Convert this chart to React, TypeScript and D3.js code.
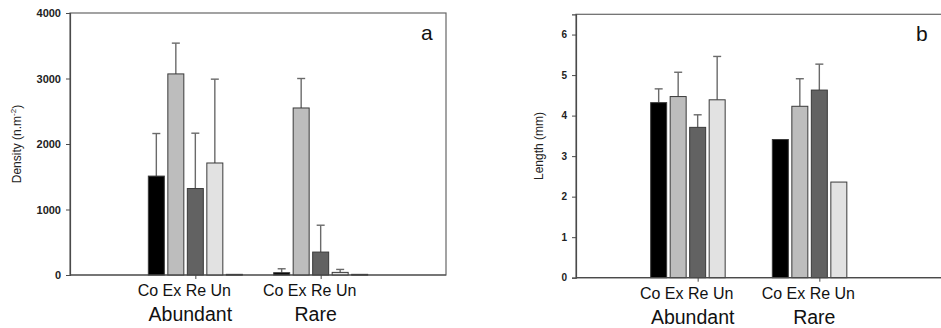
import { axisBottom, axisLeft, scaleBand, scaleLinear, select } from "d3";
import { useEffect, useRef } from "react";

const groups = ["Abundant", "Rare"];
const series = ["Co", "Ex", "Re", "Un", "Ot"];
const seriesLabel = "Co Ex Re Un";
const seriesFill: Record<string, string> = {
  Co: "#000000",
  Ex: "#bdbdbd",
  Re: "#626262",
  Un: "#e2e2e2",
  Ot: "#333333",
};

// panel a: density (mean and upper error) per group
const densityAbundant = [1510, 3070, 1320, 1710, 10];
const densityRare = [35, 2550, 350, 40, 10];
const densityErrAbundant = [650, 470, 845, 1280, 0];
const densityErrRare = [60, 450, 410, 45, 0];
const densityTicks = [0, 1000, 2000, 3000, 4000];

// panel b: length
const lengthAbundant = [4.32, 4.47, 3.71, 4.39, 0];
const lengthRare = [3.41, 4.23, 4.63, 2.36, 0];
const lengthErrAbundant = [0.34, 0.6, 0.31, 1.07, 0];
const lengthErrRare = [0, 0.68, 0.64, 0, 0];
const lengthTicks = [0, 1, 2, 3, 4, 5, 6];

const FONT = "'Liberation Sans', Arial, sans-serif";
const AXIS = "#4a4a4a";

interface PanelProps {
  left: number;
  right: number;
  top: number;
  bottom: number;
  frameRight: number;
  yMax: number;
  ticks: number[];
  tickFont: number;
  values: number[][];
  errors: number[][];
  letter: string;
  titleX: number;
  title: (t: any) => void;
}

function drawPanel(svg: any, p: PanelProps) {
  const g = svg.append("g");
  const x = scaleLinear().domain([0, 3]).range([p.left, p.right]);
  const y = scaleLinear().domain([0, p.yMax]).range([p.bottom, p.top]);
  const bar = scaleBand<string>().domain(series).range([-48.75, 48.75]).paddingInner(0.18).paddingOuter(0.09);

  // frame
  g.append("rect")
    .attr("x", p.left)
    .attr("y", p.top)
    .attr("width", p.frameRight - p.left)
    .attr("height", p.bottom - p.top)
    .attr("fill", "none")
    .attr("stroke", "#666")
    .attr("stroke-width", 1.2);

  groups.forEach((grp, gi) => {
    const cx = x(gi + 1);
    const vals = p.values[gi];
    const errs = p.errors[gi];
    series.forEach((s, si) => {
      const v = vals[si];
      if (v <= 0) return;
      const bx = cx + (bar(s) ?? 0);
      const bw = bar.bandwidth();
      if (errs[si] > 0) {
        const mx = bx + bw / 2;
        g.append("line")
          .attr("x1", mx)
          .attr("x2", mx)
          .attr("y1", y(v))
          .attr("y2", y(v + errs[si]))
          .attr("stroke", "#6a6a6a")
          .attr("stroke-width", 1.4);
        g.append("line")
          .attr("x1", mx - 4)
          .attr("x2", mx + 4)
          .attr("y1", y(v + errs[si]))
          .attr("y2", y(v + errs[si]))
          .attr("stroke", "#6a6a6a")
          .attr("stroke-width", 1.4);
      }
      g.append("rect")
        .attr("x", bx)
        .attr("y", y(v))
        .attr("width", bw)
        .attr("height", Math.max(p.bottom - y(v), 0.8))
        .attr("fill", seriesFill[s])
        .attr("stroke", "#3a3a3a")
        .attr("stroke-width", 1);
    });

    g.append("text")
      .attr("x", cx - 11)
      .attr("y", p.bottom + 21)
      .attr("text-anchor", "middle")
      .attr("font-family", FONT)
      .attr("font-size", 16)
      .attr("fill", "#111")
      .text(seriesLabel);
    g.append("text")
      .attr("x", cx - 5)
      .attr("y", p.bottom + 46)
      .attr("text-anchor", "middle")
      .attr("font-family", FONT)
      .attr("font-size", 19.5)
      .attr("fill", "#111")
      .text(grp);
  });

  const xAxis = axisBottom(x).tickValues([1, 2]).tickSize(4).tickFormat(() => "");
  g.append("g")
    .attr("transform", `translate(0,${p.bottom})`)
    .call(xAxis)
    .call((a: any) => a.select(".domain").remove())
    .call((a: any) => a.selectAll("line").attr("stroke", AXIS));
  g.append("line")
    .attr("x1", p.left)
    .attr("x2", p.frameRight)
    .attr("y1", p.bottom)
    .attr("y2", p.bottom)
    .attr("stroke", AXIS)
    .attr("stroke-width", 1.2);

  const yAxis = axisLeft(y)
    .tickValues(p.ticks)
    .tickSize(4)
    .tickPadding(5)
    .tickFormat((d: any) => String(d));
  const ya = g.append("g").attr("transform", `translate(${p.left},0)`).call(yAxis);
  ya.select(".domain").attr("stroke", AXIS).attr("stroke-width", 1.2);
  ya.selectAll("line").attr("stroke", AXIS);
  ya.selectAll("text")
    .attr("font-family", FONT)
    .attr("font-size", p.tickFont)
    .attr("font-weight", 600)
    .attr("fill", "#222");

  g.append("text")
    .attr("x", p.right - 25)
    .attr("y", p.top + 27)
    .attr("font-family", FONT)
    .attr("font-size", 21)
    .attr("fill", "#111")
    .text(p.letter);

  const title = g
    .append("text")
    .attr("transform", `translate(${p.titleX},${(p.top + p.bottom) / 2}) rotate(-90)`)
    .attr("text-anchor", "middle")
    .attr("font-family", FONT)
    .attr("font-size", 12)
    .attr("fill", "#222");
  p.title(title);
}

export default function App() {
  const svgRef = useRef<SVGSVGElement | null>(null);

  useEffect(() => {
    if (!svgRef.current) return;
    const svg = select(svgRef.current);
    svg.selectAll("*").remove();

    drawPanel(svg, {
      left: 70,
      right: 446,
      top: 13,
      bottom: 275,
      frameRight: 446,
      yMax: 4000,
      ticks: densityTicks,
      tickFont: 11,
      values: [densityAbundant, densityRare],
      errors: [densityErrAbundant, densityErrRare],
      letter: "a",
      titleX: 21,
      title: (t) => {
        t.append("tspan").text("Density (n.m");
        t.append("tspan").attr("dy", -5).attr("font-size", 8).text("-2");
        t.append("tspan").attr("dy", 5).text(")");
      },
    });

    drawPanel(svg, {
      left: 576,
      right: 941,
      top: 14.3,
      bottom: 277.7,
      frameRight: 945,
      yMax: 6.5,
      ticks: lengthTicks,
      tickFont: 10,
      values: [lengthAbundant, lengthRare],
      errors: [lengthErrAbundant, lengthErrRare],
      letter: "b",
      titleX: 543,
      title: (t) => t.text("Length (mm)"),
    });
  }, []);

  return (
    <div style={{ position: "absolute", left: 0, top: 0 }}>
      <svg ref={svgRef} width={941} height={328} style={{ display: "block", background: "#fff" }} />
    </div>
  );
}
